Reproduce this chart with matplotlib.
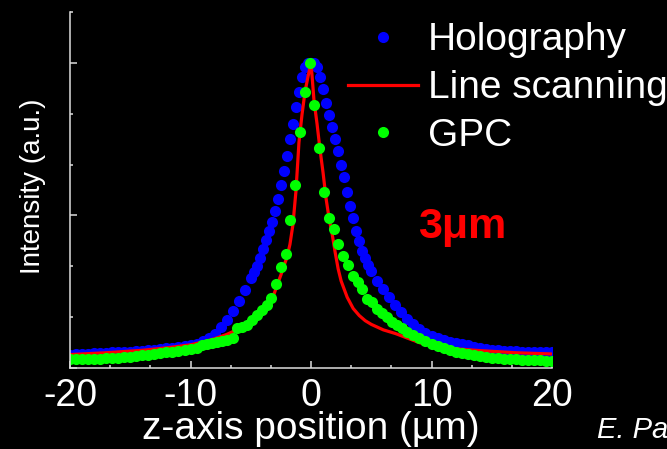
import numpy as np
import matplotlib
matplotlib.use('Agg')
import matplotlib.pyplot as plt
from matplotlib.ticker import MultipleLocator, NullFormatter

plt.rcParams['font.family'] = ['Liberation Sans', 'DejaVu Sans']
plt.rcParams['axes.unicode_minus'] = False

# Holography (puntos azules)
holo_x = np.concatenate([np.arange(-20, -5.25, 0.5), np.arange(-5, 5.01, 0.25), np.arange(5.5, 20.01, 0.5)])
holo_y = [0.044, 0.045, 0.046, 0.047, 0.048, 0.049, 0.050, 0.051, 0.052, 0.053,
          0.054, 0.055, 0.056, 0.058, 0.060, 0.062, 0.064, 0.066, 0.068, 0.071,
          0.074, 0.080, 0.088, 0.098, 0.113, 0.133, 0.158, 0.186, 0.218, 0.256,
          0.295, 0.315, 0.335, 0.360, 0.390, 0.420, 0.450, 0.480, 0.515, 0.555,
          0.600, 0.645, 0.695, 0.750, 0.800, 0.855, 0.905, 0.955, 0.985, 1.000,
          1.000, 1.000, 0.985, 0.955, 0.915, 0.870, 0.830, 0.790, 0.750, 0.710,
          0.665, 0.625, 0.578, 0.530, 0.490, 0.450, 0.415, 0.385, 0.360, 0.338,
          0.318,
          0.285, 0.258, 0.232, 0.205, 0.182, 0.160, 0.143, 0.128, 0.115, 0.105,
          0.097, 0.091, 0.086, 0.082, 0.078, 0.074, 0.070, 0.066, 0.063, 0.060,
          0.058, 0.057, 0.056, 0.055, 0.054, 0.053, 0.052, 0.052, 0.051, 0.051]

# Line scanning (linea roja)
line_x = [-20, -17, -14, -12, -10, -9, -8, -7, -6, -5, -4.5, -4, -3.5, -3.25, -3,
          -2.75, -2.5, -2.25, -2, -1.75, -1.5, -1.25, -1, -0.75, -0.5, -0.25, 0,
          0.25, 0.5, 0.75, 1, 1.25, 1.5, 1.75, 2, 2.25, 2.5, 3, 3.5, 4, 4.5, 5,
          6, 7, 8, 9, 10, 12, 14, 17, 20]
line_y = [0.044, 0.050, 0.058, 0.066, 0.076, 0.085, 0.096, 0.110, 0.128, 0.150,
          0.160, 0.176, 0.203, 0.225, 0.250, 0.278, 0.305, 0.335, 0.362, 0.405,
          0.470, 0.580, 0.740, 0.830, 0.905, 0.955, 1.000,
          0.875, 0.800, 0.715, 0.640, 0.555, 0.490, 0.440, 0.380, 0.325, 0.285,
          0.232, 0.195, 0.172, 0.155, 0.143, 0.125, 0.113, 0.098, 0.083, 0.073,
          0.063, 0.057, 0.050, 0.046]

# GPC (puntos verdes)
gpc_x = [-20, -19.5, -19, -18.5, -18, -17.5, -17, -16.5, -16, -15.5, -15, -14.5,
         -14, -13.5, -13, -12.5, -12, -11.5, -11, -10.5, -10, -9.5,
         -9.08, -8.67, -8.25, -7.83, -7.42, -7.0, -6.5, -6.17, -5.75, -5.33,
         -4.92, -4.5, -4.08, -3.67, -3.33, -2.92, -2.5, -2.1, -1.75, -1.33,
         -0.92, -0.5, -0.08,
         0.28, 0.69, 1.08, 1.5, 1.88, 2.25, 2.67, 3.08, 3.5, 3.92, 4.25, 4.67,
         5.08, 5.5, 5.92, 6.33, 6.75, 7.17, 7.58, 8.0, 8.5, 9.0, 9.5, 10, 10.5,
         11, 11.5, 12, 12.5, 13, 13.5, 14, 14.5, 15, 15.5, 16, 16.5, 17, 17.5,
         18, 18.5, 19, 19.5, 20]
gpc_y = [0.028, 0.028, 0.029, 0.029, 0.030, 0.031, 0.032, 0.033, 0.034, 0.035,
         0.037, 0.039, 0.041, 0.043, 0.046, 0.048, 0.051, 0.054, 0.057, 0.060,
         0.063, 0.067,
         0.074, 0.079, 0.082, 0.085, 0.088, 0.092, 0.098, 0.131, 0.134, 0.141,
         0.157, 0.174, 0.190, 0.207, 0.230, 0.275, 0.331, 0.374, 0.485, 0.600,
         0.774, 0.905, 1.000,
         0.862, 0.722, 0.577, 0.492, 0.456, 0.407, 0.366, 0.338, 0.302, 0.283,
         0.259, 0.226, 0.216, 0.193, 0.180, 0.167, 0.151, 0.141, 0.131, 0.118,
         0.108, 0.097, 0.088, 0.079, 0.072, 0.064, 0.058, 0.054, 0.050, 0.046,
         0.043, 0.040, 0.037, 0.034, 0.032, 0.030, 0.029, 0.028, 0.027, 0.026,
         0.025, 0.025, 0.024, 0.024]

fig = plt.figure(figsize=(6.67, 4.49), dpi=100, facecolor='black')
ax = fig.add_axes([0.105, 0.1804, 0.7226, 0.7929], facecolor='black')

ax.plot(holo_x, holo_y, 'o', color='#0000ff', ms=8, mec='none', label='Holography')
ax.plot(line_x, line_y, '-', color='#ff0000', lw=2.3, label='Line scanning')
ax.plot(gpc_x, gpc_y, 'o', color='#00ff00', ms=8, mec='none', label='GPC')

ax.set_xlim(-20, 20)
ax.set_ylim(0, 7 / 6)

# ejes
for s in ['top', 'right']:
    ax.spines[s].set_visible(False)
for s in ['left', 'bottom']:
    ax.spines[s].set_color('#dddddd')
    ax.spines[s].set_linewidth(1.1)

ax.xaxis.set_major_locator(MultipleLocator(10))
ax.xaxis.set_minor_locator(MultipleLocator(10 / 3))
ax.yaxis.set_major_locator(MultipleLocator(0.5))
ax.yaxis.set_minor_locator(MultipleLocator(1 / 6))
ax.yaxis.set_major_formatter(NullFormatter())
ax.tick_params(which='both', direction='in', color='#dddddd', width=1.1)
ax.tick_params(which='major', length=5)
ax.tick_params(which='minor', length=2.5)
ax.tick_params(axis='x', labelsize=27, labelcolor='white', pad=7)

ax.set_xlabel('z-axis position (µm)', fontsize=28, color='white')
ax.xaxis.set_label_coords(0.5, -0.12)
ax.set_ylabel('Intensity (a.u.)', fontsize=20, color='white')
ax.yaxis.set_label_coords(-0.05, 0.51)

ax.text(0.722, 0.365, '3μm', transform=ax.transAxes, color='#ff0000',
        fontsize=31, fontweight='bold', ha='left', va='baseline')

fig.text(597 / 667, 1 - 438 / 449, 'E. Pa', fontsize=21,
         style='italic', color='white', ha='left', va='baseline')

leg = fig.legend(loc='upper left', bbox_to_anchor=(0.5217, 0.95), frameon=False,
                 fontsize=28, labelcolor='white', handlelength=1.8,
                 handletextpad=0.25, labelspacing=0.3, borderpad=0,
                 borderaxespad=0, numpoints=1, markerscale=1.0)

fig.savefig('out.png', dpi=100, facecolor='black')
